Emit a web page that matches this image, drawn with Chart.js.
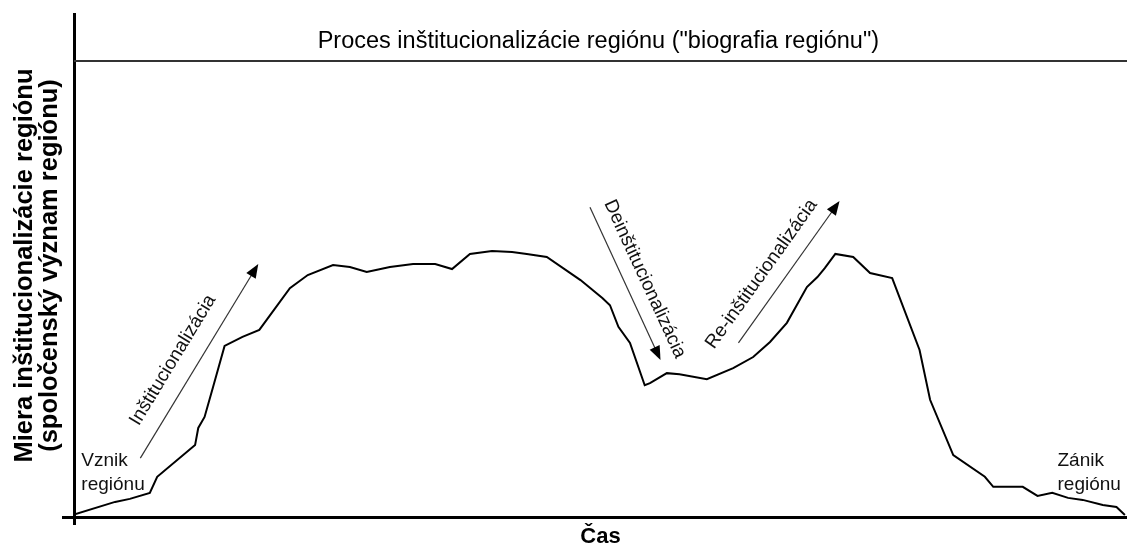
<script src="https://cdn.jsdelivr.net/npm/chart.js@4.4.1/dist/chart.umd.min.js"></script>
<style>
  body { margin: 0; background: #fff; }
</style>
<canvas id="myChart" width="1127" height="548"></canvas>

<script>
  // time (x) and institutionalisation measure (y), 0..100 units
  const casX = [0, 3.9, 5.3, 7.2, 7.9, 11.5, 11.8, 12.4, 13.2, 14.3, 16.0, 17.6, 20.5, 22.2, 24.6, 26.2, 27.8,
    30.0, 32.2, 34.3, 35.9, 37.6, 39.7, 41.6, 43.0, 44.9, 48.1, 50.2, 50.9, 51.7, 52.8, 54.2, 54.7, 56.3,
    57.5, 60.1, 62.6, 64.5, 66.1, 67.7, 69.6, 70.6, 71.3, 72.3, 74.0, 75.6, 77.7, 80.3, 81.3, 83.5, 86.5,
    87.3, 90.1, 91.5, 92.9, 94.4, 95.8, 97.7, 99.0, 99.8];
  const mieraY = [0.5, 3.0, 3.6, 4.8, 8.0, 14.3, 17.7, 19.9, 25.8, 34.0, 35.8, 37.2, 45.5, 48.1, 50.1, 49.7, 48.7,
    49.7, 50.3, 50.3, 49.3, 52.3, 52.9, 52.7, 52.3, 51.7, 47.1, 43.5, 42.1, 37.8, 34.6, 26.2, 26.6, 28.6,
    28.4, 27.4, 29.6, 31.8, 34.8, 38.6, 45.7, 47.7, 49.5, 52.3, 51.7, 48.5, 47.5, 33.2, 23.3, 12.3, 8.0,
    6.0, 6.0, 4.2, 4.8, 3.8, 3.4, 2.4, 2.0, 0.4];

  const hornaHranica = 90.65;   // level of the top line under the title

  const nadpis = 'Proces inštitucionalizácie regiónu ("biografia regiónu")';
  const osY = ['Miera inštitucionalizácie regiónu', '(spoločenský význam regiónu)'];
  const osX = 'Čas';
  const sipkyText = ['Inštitucionalizácia', 'Deinštitucionalizácia', 'Re-inštitucionalizácia'];
  const bodyText = [['Vznik', 'regiónu'], ['Zánik', 'regiónu']];

  const FONT = '"Liberation Sans", Arial, sans-serif';

  // where the annotations sit, in data units
  const sipky = [
    { from: [6.3, 11.7], to: [17.5, 50.3], text: [9.4, 31.2] },
    { from: [49.0, 61.6], to: [55.7, 31.2], text: [54.2, 47.3] },
    { from: [63.1, 34.6], to: [72.7, 62.8], text: [65.3, 48.3] }
  ];
  const bodyAt = [[0.7, 11.1], [93.4, 11.2]];
  const nadpisAt = [49.8, 94.5];

  const kresli = {
    id: 'kresli',
    afterDatasetsDraw(chart) {
      const ctx = chart.ctx;
      const sx = chart.scales.x, sy = chart.scales.y;
      const px = v => sx.getPixelForValue(v);
      const py = v => sy.getPixelForValue(v);
      ctx.save();
      ctx.fillStyle = '#000';

      // title
      ctx.font = '23.5px ' + FONT;
      ctx.textAlign = 'center';
      ctx.textBaseline = 'middle';
      ctx.fillText(nadpis, px(nadpisAt[0]), py(nadpisAt[1]));

      // arrows + rotated labels
      for (let i = 0; i < sipky.length; i++) {
        const s = sipky[i];
        const x1 = px(s.from[0]), y1 = py(s.from[1]);
        const x2 = px(s.to[0]), y2 = py(s.to[1]);
        const ang = Math.atan2(y2 - y1, x2 - x1);
        ctx.strokeStyle = '#333';
        ctx.lineWidth = 1.2;
        ctx.beginPath();
        ctx.moveTo(x1, y1);
        ctx.lineTo(x2 - 10 * Math.cos(ang), y2 - 10 * Math.sin(ang));
        ctx.stroke();
        ctx.fillStyle = '#000';
        ctx.beginPath();
        ctx.moveTo(x2, y2);
        ctx.lineTo(x2 - 14 * Math.cos(ang) + 5.5 * Math.sin(ang), y2 - 14 * Math.sin(ang) - 5.5 * Math.cos(ang));
        ctx.lineTo(x2 - 14 * Math.cos(ang) - 5.5 * Math.sin(ang), y2 - 14 * Math.sin(ang) + 5.5 * Math.cos(ang));
        ctx.closePath();
        ctx.fill();

        ctx.save();
        ctx.translate(px(s.text[0]), py(s.text[1]));
        ctx.rotate(ang);
        ctx.font = '19px ' + FONT;
        ctx.fillStyle = '#111';
        ctx.fillText(sipkyText[i], 0, 0);
        ctx.restore();
      }

      // Vznik / Zánik
      ctx.font = '19px ' + FONT;
      ctx.textAlign = 'left';
      ctx.fillStyle = '#111';
      for (let i = 0; i < bodyText.length; i++) {
        const x = px(bodyAt[i][0]), y = py(bodyAt[i][1]);
        bodyText[i].forEach((t, j) => ctx.fillText(t, x, y + j * 24));
      }
      ctx.restore();
    }
  };

  const onlyZero = c => (c.tick && c.tick.value === 0 ? 3 : 0);

  new Chart('myChart', {
    type: 'line',
    data: {
      datasets: [
        {
          data: casX.map((x, i) => ({ x: x, y: mieraY[i] })),
          borderColor: '#000',
          borderWidth: 2,
          pointRadius: 0,
          tension: 0,
          fill: false
        },
        {
          data: [{ x: 0, y: hornaHranica }, { x: 100, y: hornaHranica }],
          borderColor: '#333',
          borderWidth: 2,
          pointRadius: 0,
          fill: false
        }
      ]
    },
    options: {
      responsive: false,
      devicePixelRatio: 1,
      animation: false,
      layout: { padding: { top: 14, left: 0, right: 0, bottom: 0 } },
      plugins: { legend: { display: false }, tooltip: { enabled: false } },
      scales: {
        x: {
          type: 'linear',
          min: 0,
          max: 100,
          ticks: { display: false },
          grid: { drawOnChartArea: false, drawTicks: true, tickLength: 8, color: '#000', lineWidth: onlyZero },
          border: { display: true, color: '#000', width: 3 },
          title: { display: true, text: osX, color: '#000', font: { family: FONT, size: 22, weight: 'bold', lineHeight: 1.0 }, padding: { top: 0, bottom: 0 } },
          afterFit: s => { s.height = 31; }
        },
        y: {
          min: 0,
          max: 100,
          ticks: { display: false },
          grid: { drawOnChartArea: false, drawTicks: true, tickLength: 12, color: '#000', lineWidth: onlyZero },
          border: { display: true, color: '#000', width: 3 },
          title: { display: true, text: osY, color: '#000', font: { family: FONT, size: 25.5, weight: 'bold', lineHeight: 1.0 }, padding: { top: 12, bottom: 0 } },
          afterFit: s => { s.width = 74; }
        }
      }
    },
    plugins: [kresli]
  });
</script>
